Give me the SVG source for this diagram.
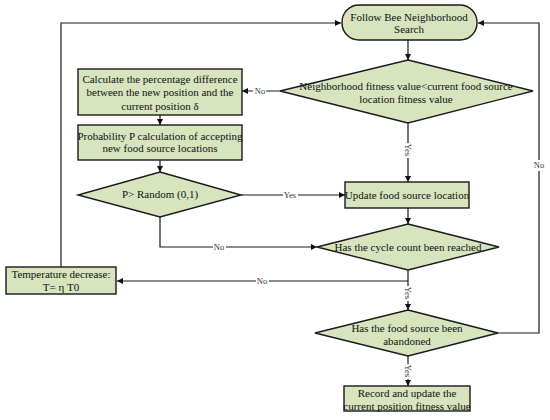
<svg xmlns="http://www.w3.org/2000/svg" width="550" height="420" viewBox="0 0 550 420" font-family="'Liberation Serif', 'Times New Roman', serif">
<defs>
<marker id="ah" viewBox="0 0 10 10" refX="10" refY="5" markerWidth="6" markerHeight="6" orient="auto" markerUnits="userSpaceOnUse">
<path d="M0,0 L10,5 L0,10 z" fill="#111"/>
</marker>
<style>
.n{fill:#d7e4bd;stroke:#1a1a1a;stroke-width:1.4}
.t{font-family:'Liberation Serif','Times New Roman',serif;font-size:11px;fill:#111;text-anchor:middle}
.c{fill:none;stroke:#1a1a1a;stroke-width:1.2}
.l{font-family:'Liberation Serif','Times New Roman',serif;font-size:8.5px;fill:#333;text-anchor:middle}
.bg{fill:#fff}
</style>
</defs>
<rect width="550" height="420" fill="#fff"/>
<g id="connectors">
<path class="c" d="M408,40 V60" marker-end="url(#ah)"/>
<path class="c" d="M280,91 H242" marker-end="url(#ah)"/>
<path class="c" d="M160,115 V125" marker-end="url(#ah)"/>
<path class="c" d="M160,160 V172" marker-end="url(#ah)"/>
<path class="c" d="M408,123 V182" marker-end="url(#ah)"/>
<path class="c" d="M241,195 H345" marker-end="url(#ah)"/>
<path class="c" d="M408,208 V224" marker-end="url(#ah)"/>
<path class="c" d="M160,217 V247 H317" marker-end="url(#ah)"/>
<path class="c" d="M408,270 V310" marker-end="url(#ah)"/>
<path class="c" d="M408,281 H117" marker-end="url(#ah)"/>
<path class="c" d="M408,356 V386" marker-end="url(#ah)"/>
<path class="c" d="M498,333 H539 V23 H478" marker-end="url(#ah)"/>
<path class="c" d="M61,267 V23 H341" marker-end="url(#ah)"/>
<rect class="bg" x="253" y="86" width="13" height="10"/>
<text class="l" x="260" y="94">No</text>
<rect class="bg" x="403" y="143" width="10" height="15"/>
<text class="l" transform="translate(405,150) rotate(90)">Yes</text>
<rect class="bg" x="283" y="190" width="15" height="10"/>
<text class="l" x="290" y="198">Yes</text>
<rect class="bg" x="213" y="242" width="13" height="10"/>
<text class="l" x="219" y="250">No</text>
<rect class="bg" x="256" y="276" width="13" height="10"/>
<text class="l" x="262" y="284">No</text>
<rect class="bg" x="403" y="286" width="10" height="15"/>
<text class="l" transform="translate(405,293) rotate(90)">Yes</text>
<rect class="bg" x="403" y="364" width="10" height="15"/>
<text class="l" transform="translate(405,371) rotate(90)">Yes</text>
<rect class="bg" x="533" y="160" width="12" height="11"/>
<text class="l" x="539" y="168">No</text>
</g>
<g id="start">
<rect class="n" x="342" y="5" width="135" height="35" rx="17" ry="17"/>
<text class="t" x="409" y="21">Follow Bee Neighborhood</text>
<text class="t" x="409" y="33">Search</text>
</g>
<g id="d_neighbor">
<polygon class="n" points="408,60 533,91 408,123 280,91"/>
<text class="t" x="406" y="90">Neighborhood fitness value&lt;current food source</text>
<text class="t" x="406" y="103">location fitness value</text>
</g>
<g id="b_calc">
<rect class="n" x="78" y="69" width="164" height="46"/>
<text class="t" x="160" y="83">Calculate the percentage difference</text>
<text class="t" x="160" y="96">between the new position and the</text>
<text class="t" x="160" y="110">current position δ</text>
</g>
<g id="b_prob">
<rect class="n" x="78" y="125" width="164" height="35"/>
<text class="t" x="160" y="140">Probability P calculation of accepting</text>
<text class="t" x="160" y="152">new food source locations</text>
</g>
<g id="d_random">
<polygon class="n" points="160,172 241,195 160,217 78,195"/>
<text class="t" x="160" y="198">P&gt; Random (0,1)</text>
</g>
<g id="b_update">
<rect class="n" x="345" y="182" width="124" height="26"/>
<text class="t" x="407" y="199">Update food source location</text>
</g>
<g id="d_cycle">
<polygon class="n" points="408,224 499,247 408,270 317,247"/>
<text class="t" x="408" y="251">Has the cycle count been reached</text>
</g>
<g id="b_temp">
<rect class="n" x="6" y="267" width="110" height="27"/>
<text class="t" x="61" y="278">Temperature decrease:</text>
<text class="t" x="61" y="291">T= η T0</text>
</g>
<g id="d_abandon">
<polygon class="n" points="408,310 498,333 408,356 315,333"/>
<text class="t" x="407" y="332">Has the food source been</text>
<text class="t" x="407" y="345">abandoned</text>
</g>
<g id="b_record">
<rect class="n" x="344" y="386" width="126" height="25"/>
<text class="t" x="407" y="397">Record and update the</text>
<text class="t" x="407" y="410">current position fitness value</text>
</g>
</svg>
